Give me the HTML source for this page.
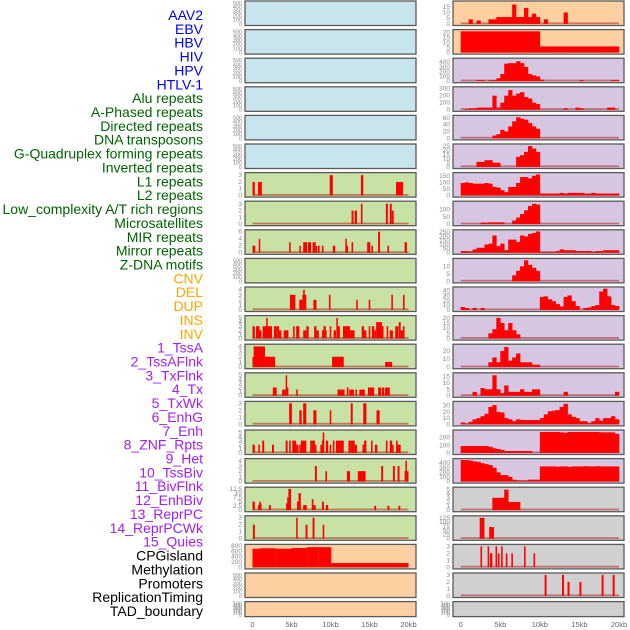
<!DOCTYPE html>
<html><head><meta charset="utf-8"><style>
html,body{margin:0;padding:0;background:#fff;width:630px;height:630px;overflow:hidden}
svg{display:block}
text{font-family:"Liberation Sans",sans-serif}
</style></head><body>
<svg id="chart" width="630" height="630" viewBox="0 0 630 630" xmlns="http://www.w3.org/2000/svg"></svg>
<script>
const labels = ["AAV2","EBV","HBV","HIV","HPV","HTLV-1","Alu repeats","A-Phased repeats","Directed repeats","DNA transposons","G-Quadruplex forming repeats","Inverted repeats","L1 repeats","L2 repeats","Low_complexity A/T rich regions","Microsatellites","MIR repeats","Mirror repeats","Z-DNA motifs","CNV","DEL","DUP","INS","INV","1_TssA","2_TssAFlnk","3_TxFlnk","4_Tx","5_TxWk","6_EnhG","7_Enh","8_ZNF_Rpts","9_Het","10_TssBiv","11_BivFlnk","12_EnhBiv","13_ReprPC","14_ReprPCWk","15_Quies","CPGisland","Methylation","Promoters","ReplicationTiming","TAD_boundary"];
const labelColors = ["#0000ee","#006400","#ffa500","#a020f0","#000000"];
const labelGroups = [6,13,5,15,5];

const leftBg = ["b","b","b","b","b","b","g","g","g","g","g","g","g","g","g","g","g","g","g","o","o","o"];
const rightBg = ["o","o","p","p","p","p","p","p","p","p","p","p","p","p","p","p","p","y","y","y","y","y"];
const EMPTY = [0,100,200,300,400,500];
const leftTicks = [EMPTY,EMPTY,EMPTY,EMPTY,EMPTY,EMPTY,[0,1,2,3],[0,1,2,3],[0,2,4,6],EMPTY,[0,1,2,3,4],[0,1,2,3,4,5],[0,1,2,3,4],[0,1,2,3,4,5],[0,1,2,3],[0,1,2,3,4,5],[0,1,2,3,4],[0,2.5,5,7.5,10,12.5],[0,1,2,3],[0,200,400,600,800],EMPTY,EMPTY];
const leftMax = [520,520,520,520,520,520,3.2,3.2,6.2,520,4.3,5.3,4.2,5.3,3.1,5.3,4.2,12.8,3.1,820,520,520];
const rightTicks = [[0,5,10,15],[0,5,10,15,20],[0,100,200,300,400],[0,100,200,300],[0,20,40,60],[0,5,10,15,20,25],[0,50,100,150],[0,50,100],[0,50,100,150,200,250],[0,5,10],[0,10,20,30,40],[0,5,10,15,20],[0,10,20],[0,5,10,15],[0,10,20,30],[0,100,200],[0,100,200,300,400],[0,1,2,3,4,5],[0,25,50,75,100,125],[0,1,2,3],[0,1,2,3],EMPTY];
const rightMax = [19,21.5,460,310,64,26,165,150,265,14.5,45,21,27,17,35,285,475,5.3,130,3.1,3.1,520];

// sparse series: [startKb, endKb, value]
const leftL1 = [[0,0.3,2],[0.7,1.2,2],[9.9,10.3,3],[13.9,14.2,3],[18.4,19.3,2]];
const leftLowComplexity = [[12.7,12.95,2],[13.1,13.4,2],[13.9,14.1,3],[17.1,17.35,3],[17.6,17.85,3],[17.85,18.1,2]];
const leftMIR = [[0,0.35,2],[0.8,0.95,4],[4.7,4.9,3],[6.0,6.15,2],[6.5,7.0,3],[7.1,7.5,3],[7.7,8.1,3],[8.1,8.3,2],[8.4,8.6,2],[8.9,9.1,2],[10.3,10.6,2],[11.9,12.05,4],[12.05,12.2,2],[12.7,12.9,3],[14.7,15.1,3],[15.25,15.45,2],[16.1,16.35,6],[17.3,17.5,2],[19.5,19.8,3]];
const leftDEL = [[4.8,5.5,3],[6.0,6.4,2],[6.5,6.7,4],[6.4,6.9,3],[7.8,8.2,2],[9.8,10.0,3],[13.3,13.5,2],[14.9,15.1,2],[17.8,18.0,3],[19.3,19.5,3]];
const leftDUP = [[0,0.3,3],[0.45,0.9,3],[0.9,1.15,2],[1.3,1.6,3],[1.6,2.5,3],[1.75,1.9,5],[2.75,3.1,3],[3.1,3.4,3],[3.4,3.7,2],[4.0,4.6,2],[5.2,5.4,3],[5.6,6.0,3],[6.5,6.9,2],[6.9,7.2,3],[7.9,8.2,3],[8.2,8.5,2],[8.9,9.5,2],[9.1,9.4,3],[9.9,10.1,3],[10.4,10.7,2],[10.75,10.9,5],[10.9,11.2,3],[11.6,12.5,3],[12.5,13.1,2],[14.0,14.3,3],[14.3,14.6,2],[14.9,15.1,3],[15.3,15.6,3],[15.6,15.85,2],[15.85,16.6,4],[16.6,16.8,3],[17.2,17.4,3],[17.6,18.0,2],[18.3,18.7,3],[18.75,19.0,4],[19.0,19.3,2],[19.3,19.45,3]];
const leftINS = [[0,0.15,2],[0.15,1.6,4],[1.6,2.9,2],[10.2,11.7,2],[17.0,17.9,1]];
const leftINV = [[2.6,3.1,2],[3.8,4.25,1.5],[4.25,4.4,5],[4.4,4.6,2],[5.6,5.8,1.5],[10.9,11.8,1.5],[12.1,12.3,2],[12.4,13.0,1.5],[13.2,13.4,1.5],[13.7,14.4,1.5],[14.8,15.6,2],[16.1,16.5,2],[16.6,16.9,2],[17.0,17.6,2]];
const leftTssA = [[4.7,5.05,3],[6.0,6.3,2],[6.5,6.9,3],[7.8,8.2,2],[9.9,10.1,2],[12.6,12.85,3],[14.2,14.6,3],[15.9,16.3,2]];
const leftTx = [[0,0.3,2],[0.75,0.95,2],[1.25,1.5,3],[2.5,2.75,2],[4.25,4.5,3],[4.7,4.9,3],[5.1,5.6,3],[5.6,5.9,2],[6.0,6.2,2],[6.2,6.9,3],[7.4,8.0,3],[8.0,8.2,2],[8.7,8.9,2],[8.9,9.1,3],[9.0,9.2,5],[9.4,9.7,3],[9.9,10.1,2],[10.3,10.5,3],[10.7,11.1,3],[11.1,11.7,3],[12.3,12.6,3],[12.6,13.1,3],[13.1,13.4,2],[14.1,14.3,2],[14.3,14.6,3],[15.2,15.4,3],[15.7,16.0,2],[17.1,17.3,3],[17.6,17.9,3],[17.9,18.1,2],[18.4,18.6,3],[18.6,19.0,2]];
const leftTssBiv = [[8.0,8.25,3],[9.35,9.55,2],[12.1,12.5,2],[13.5,14.5,2],[16.5,16.75,3],[18.0,18.25,3],[18.6,18.85,3],[19.6,19.8,4],[19.5,20.0,2]];
const leftBivFlnk = [[0,0.3,5],[0.7,0.85,3],[0.85,0.95,5],[0.95,1.15,4],[2.1,2.35,3],[4.3,4.45,4],[4.45,4.6,7.5],[4.6,4.95,12.5],[5.7,5.85,5],[5.9,6.2,10],[6.5,6.95,3],[7.6,7.8,6.5],[7.8,8.1,3],[8.9,9.15,5],[9.4,9.7,3],[15.6,15.85,2.5],[17.3,17.55,2.5],[18.7,18.95,2.5]];
const leftReprPC = [[0.05,0.3,2],[5.6,5.8,3],[6.8,7.05,2],[7.7,7.95,3],[9.0,9.2,2]];
const leftCpG = [[0,0.9,700],[0.9,3,720],[3,5,700],[5,7,730],[7,8.5,760],[8.5,10.1,760],[10.1,20,160]];
const leftSeries = [null,null,null,null,null,null,leftL1,leftLowComplexity,leftMIR,null,leftDEL,leftDUP,leftINS,leftINV,leftTssA,leftTx,leftTssBiv,leftBivFlnk,leftReprPC,leftCpG,null,null];

// dense series: 40 bins of 0.5kb each
const rAAV2 = [0,0,4,0,3,0,0,4,4,6,6,6,6,17,6,6,14,6,9,6,0,4,0,0,0,0,10,0,0,0,0,0,0,0,0,0,0,0,0,0];
const rEBV = [21,21,21,21,21,21,21,21,21,21,21,21,21,21,21,21,21,21,21,21,6,6,6,6,6,6,6,6,6,6,6,6,6,6,6,6,6,6,6,6];
const rHIV = [0,0,0,0,20,20,0,20,20,60,150,370,380,380,420,380,300,150,120,100,30,0,0,0,0,0,0,0,0,0,20,0,0,0,0,0,0,0,20,20];
const rHPV = [0,10,20,20,30,30,30,30,200,30,100,200,280,200,230,250,180,160,100,80,0,0,0,0,0,0,20,0,0,30,20,0,0,0,0,0,0,30,30,0];
const rRow4 = [0,0,0,0,0,0,0,0,8,12,25,20,35,50,62,58,55,45,35,28,0,0,0,0,0,0,0,0,0,0,0,0,0,0,0,0,0,0,0,0];
const rRow5 = [0,0,0,0,6,6,8,8,5,5,0,0,0,0,12,14,18,25,22,18,0,0,0,0,0,0,0,0,0,0,0,0,0,0,0,0,0,0,0,0];
const rRow6 = [95,100,95,90,90,90,95,90,65,60,40,25,65,65,95,140,140,130,150,160,15,15,15,15,15,20,15,20,20,20,20,15,15,20,15,15,15,15,15,15];
const rRow7 = [0,0,0,0,0,10,10,12,12,12,12,0,0,25,45,70,95,125,140,135,0,0,0,0,0,0,0,0,0,0,0,0,0,0,0,0,0,0,0,0];
const rRow8 = [20,20,15,40,60,60,100,110,210,80,110,30,160,160,130,210,200,230,240,260,10,10,10,10,20,40,30,30,30,20,20,20,20,10,20,20,30,30,30,30];
const rRow9 = [0,0,0,0,0,0,0,0,0,0,0,0,0,4,7,10,14,11,9,7,0,0,0,0,0,0,0,0,0,0,0,0,0,0,0,0,0,0,0,0];
const rRow10 = [6,4,0,4,0,4,0,0,0,0,0,0,0,0,0,0,0,0,0,0,27,28,22,18,12,7,27,30,18,8,0,4,5,8,10,38,44,28,10,8];
const rRow11 = [0,0,0,0,0,0,0,5,9,20,15,8,15,8,4,0,0,0,0,0,0,0,0,0,0,0,0,0,0,0,0,0,0,0,0,0,0,0,0,0];
const rRow12 = [0,0,0,0,0,0,0,6,12,6,20,25,8,12,17,6,6,6,3,3,0,0,0,0,0,0,0,0,0,0,0,0,0,0,0,0,0,0,0,0];
const rRow13 = [0,0,0,3,0,6,5,5,16,5,2,8,3,3,3,5,3,3,5,5,0,0,0,0,0,0,3,0,0,0,0,0,0,0,0,0,0,0,0,3];
const rRow14 = [3,1,4,8,10,13,17,28,31,20,19,10,8,5,8,7,7,7,7,7,10,16,21,22,23,28,33,16,12,10,5,5,2,5,10,6,10,10,13,8];
const rRow15 = [90,90,90,90,90,90,90,80,60,50,40,25,25,25,25,25,25,25,0,0,275,275,275,275,275,270,265,275,275,275,275,275,275,275,275,270,270,270,270,250];
const rRow16 = [470,470,460,440,430,400,380,360,300,200,140,140,100,40,20,20,20,40,40,40,330,330,330,330,325,330,330,320,330,330,330,335,330,330,335,330,330,330,330,330];
const rRow17 = [0,0,0,0,0,0,0,0,3,3,3,5,2,2,2,0,0,0,0,0,0,0,0,0,0,0,0,0,0,0,0,0,0,0,0,0,0,0,0,0];
const rRow18 = [[2.4,3.0,125],[3.6,4.2,70]];
const rRow19 = [[2.5,2.7,3],[3.4,3.6,3],[3.7,4.0,2],[4.4,4.6,3],[4.7,4.9,2],[5.1,5.3,3],[5.7,5.9,2],[6.4,6.6,2],[8.0,8.2,3],[9.2,9.4,2]];
const rRow20 = [[10.6,10.85,3],[12.8,13.05,3],[13.5,13.75,2],[15.0,15.25,2],[17.8,18.05,3],[19.2,19.45,3]];
const rightSeries = [rAAV2,rEBV,rHIV,rHPV,rRow4,rRow5,rRow6,rRow7,rRow8,rRow9,rRow10,rRow11,rRow12,rRow13,rRow14,rRow15,rRow16,rRow17,rRow18,rRow19,rRow20,null];

const xTicks = [0,5,10,15,20];
const xTickLabels = ["0","5kb","10kb","15kb","20kb"];

const NS = "http://www.w3.org/2000/svg";
const svg = document.getElementById("chart");
const bgColors = {b:"#c8e4ec",g:"#c8e1a5",o:"#fdd0a2",p:"#d6c6e2",y:"#d0d0d0"};
function mk(tag, attrs, parent){const e=document.createElementNS(NS,tag);for(const k in attrs)e.setAttribute(k,attrs[k]);(parent||svg).appendChild(e);return e;}

// labels
let li=0;
labelGroups.forEach((n,g)=>{for(let k=0;k<n;k++){
  const t=mk("text",{x:203,y:15+li*13.86+5,"text-anchor":"end","font-size":"14",fill:labelColors[g]});
  t.textContent=labels[li];
  
  
  li++;}});

const cols=[{x0:245,x1:416,kx0:252.5,kx1:408.5,bg:leftBg,ticks:leftTicks,max:leftMax,series:leftSeries,name:"left"},
            {x0:453,x1:624,kx0:460.7,kx1:619,bg:rightBg,ticks:rightTicks,max:rightMax,series:rightSeries,name:"right"}];

cols.forEach(c=>{
  const xs=kb=>c.kx0+(c.kx1-c.kx0)*kb/20;
  for(let i=0;i<22;i++){
    const top=1+i*28.6, h=(i===21?15:24.5), bot=top+h;
    const g=mk("g",{});
    
    
    mk("rect",{x:c.x0,y:top,width:c.x1-c.x0,height:h,fill:bgColors[c.bg[i]],stroke:"#5a5a5a","stroke-width":"1.3"},g);
    const y0=bot-1.6, yT=top+1.2, mx=c.max[i];
    const ys=v=>y0-(y0-yT)*v/mx;
    c.ticks[i].forEach(v=>{
      const t=mk("text",{x:c.x0-3,y:ys(v)+2,"text-anchor":"end","font-size":(c.ticks[i]===EMPTY?"5.5":"6.5"),fill:"#888"},g);
      t.textContent=String(v);
      
      
    });
    const s=c.series[i];
    if(!s) continue;
    mk("rect",{x:xs(0),y:y0-1.5,width:xs(20)-xs(0),height:1.8,fill:"rgba(170,0,0,0.45)"},g);
    if(typeof s[0]==="number"){
      s.forEach((v,j)=>{ if(v<=0) return;
        const r=mk("rect",{x:xs(j*0.5),y:ys(v),width:xs(0.5)-xs(0)+0.3,height:y0-ys(v),fill:"#ff0000"},g);
        
        
      });
    } else {
      s.forEach(d=>{
        const r=mk("rect",{x:xs(d[0]),y:ys(d[2]),width:Math.max(1.5,xs(d[1])-xs(d[0])),height:y0-ys(d[2]),fill:"#ff0000"},g);
        
        
      });
    }
  }
  xTicks.forEach((v,k)=>{
    const t=mk("text",{x:xs(v),y:627,"text-anchor":"middle","font-size":"7.5",fill:"#666"});
    t.textContent=xTickLabels[k];
    
    
  });
});
</script>
</body></html>
